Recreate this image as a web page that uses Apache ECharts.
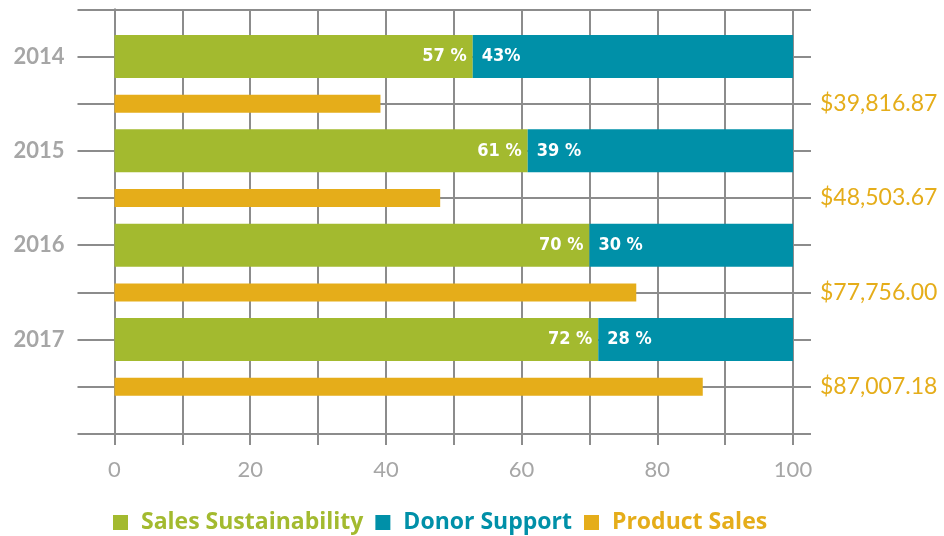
<!DOCTYPE html>
<html>
<head>
<meta charset="utf-8">
<script src="https://cdn.jsdelivr.net/npm/echarts@6/dist/echarts.min.js"></script>
<style>
  html, body { margin: 0; padding: 0; background: #fff; }
  #chart { width: 944px; height: 536px; }
</style>
</head>
<body>
<div id="chart"></div>
<script>
// values
const years = ['2014', '2015', '2016', '2017']
const sustainBar = [52.8, 60.9, 70.0, 71.3]
const donorBar = [47.2, 39.1, 30.0, 28.7]
const productBar = [39.2, 48.0, 76.9, 86.7]
const sustainLabels = ['57 %', '61 %', '70 %', '72 %']
const donorLabels = ['43%', '39 %', '30 %', '28 %']
const salesLabels = ['$39,816.87', '$48,503.67', '$77,756.00', '$87,007.18']

const GREEN = '#a3ba2f'
const BLUE = '#0090a8'
const ORANGE = '#e5ad1a'
const GRID = '#8c8c8c'
const LABEL_GREY = '#a6a6a6'

// rows: top line, then year / product per year, then bottom line
const rows = ['top']
years.forEach((y) => { rows.push(y); rows.push(y + ' sales') })
rows.push('bottom')

function rowSeries(values, onProductRow) {
  const out = rows.map(() => '-')
  years.forEach((y, i) => {
    const idx = rows.indexOf(onProductRow ? y + ' sales' : y)
    out[idx] = values[i]
  })
  return out
}

function labelFor(list) {
  return (p) => {
    const i = years.indexOf(p.name)
    return i >= 0 ? list[i] : ''
  }
}

const pctLabel = {
  show: true,
  color: '#fff',
  fontFamily: '"DejaVu Sans Condensed", "DejaVu Sans", sans-serif',
  fontWeight: 'bold',
  fontSize: 18
}

const chart = echarts.init(document.getElementById('chart'))
chart.setOption({
  backgroundColor: '#fff',
  animation: false,
  grid: { left: 114.5, right: 151, top: 9.3, bottom: 102 },
  legend: {
    left: 108,
    top: 506,
    icon: 'rect',
    itemWidth: 15,
    itemHeight: 15,
    itemGap: 12,
    textStyle: { fontFamily: 'Open Sans', fontWeight: 'bold', fontSize: 23, padding: [0, 0, 0, 8] },
    data: [
      { name: 'Sales Sustainability', textStyle: { color: GREEN } },
      { name: 'Donor Support', textStyle: { color: BLUE } },
      { name: 'Product Sales', textStyle: { color: ORANGE } }
    ]
  },
  xAxis: {
    type: 'value',
    min: 0,
    max: 100,
    interval: 10,
    axisLine: { show: false },
    axisTick: { show: true, length: 11, lineStyle: { color: GRID, width: 2 } },
    splitLine: { show: true, lineStyle: { color: GRID, width: 2 } },
    axisLabel: {
      margin: 25,
      color: LABEL_GREY,
      fontFamily: 'Lato',
      fontSize: 22,
      formatter: (v) => (v % 20 === 0 ? String(v) : '')
    }
  },
  yAxis: [
    {
      type: 'category',
      data: rows,
      inverse: true,
      boundaryGap: false,
      axisLine: { show: true, lineStyle: { color: GRID, width: 2 } },
      axisTick: { show: true, length: 37, lineStyle: { color: GRID, width: 2 } },
      splitLine: { show: true, lineStyle: { color: GRID, width: 2 } },
      axisLabel: {
        margin: 50,
        color: LABEL_GREY,
        fontFamily: 'Lato',
        fontWeight: 'bold',
        fontSize: 22,
        formatter: (v) => (years.includes(v) ? v : '')
      }
    },
    {
      type: 'category',
      data: rows,
      inverse: true,
      boundaryGap: false,
      position: 'right',
      axisLine: { show: false },
      axisTick: { show: true, length: 18, lineStyle: { color: GRID, width: 2 } },
      splitLine: { show: false },
      axisLabel: {
        margin: 27,
        color: ORANGE,
        fontFamily: 'Lato',
        fontSize: 23,
        formatter: (v) => {
          const i = years.indexOf(v.replace(' sales', ''))
          return v.endsWith(' sales') && i >= 0 ? salesLabels[i] : ''
        }
      }
    }
  ],
  series: [
    {
      name: 'Sales Sustainability',
      type: 'bar',
      yAxisIndex: 0,
      stack: 'share',
      barWidth: 43,
      itemStyle: { color: GREEN },
      label: { ...pctLabel, position: 'insideRight', distance: 6, formatter: labelFor(sustainLabels) },
      data: rowSeries(sustainBar, false)
    },
    {
      name: 'Donor Support',
      type: 'bar',
      yAxisIndex: 0,
      stack: 'share',
      barWidth: 43,
      itemStyle: { color: BLUE },
      label: { ...pctLabel, position: 'insideLeft', distance: 9, formatter: labelFor(donorLabels) },
      data: rowSeries(donorBar, false)
    },
    {
      name: 'Product Sales',
      type: 'bar',
      yAxisIndex: 1,
      barWidth: 18,
      itemStyle: { color: ORANGE },
      data: rowSeries(productBar, true)
    }
  ]
})
</script>
</body>
</html>
